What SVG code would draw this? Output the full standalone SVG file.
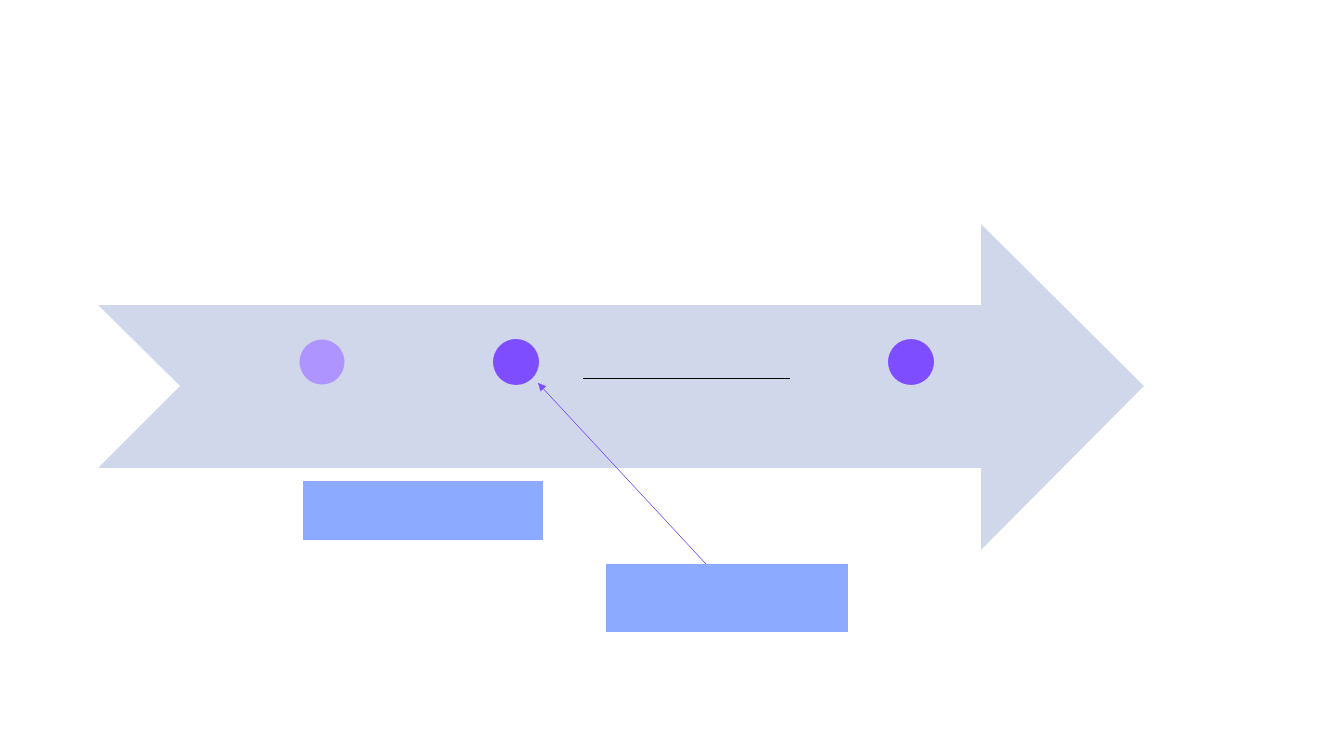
<svg xmlns="http://www.w3.org/2000/svg" width="1333" height="750" viewBox="0 0 1333 750">
<style>
.dot{fill:#7d4dff}
.box{fill:#8caaff}
.conn{stroke:#7d4dff;stroke-width:1;fill:none}
</style>
<defs>
<marker id="ah" viewBox="0 0 10 10" refX="10" refY="5" markerWidth="8" markerHeight="8" markerUnits="userSpaceOnUse" orient="auto">
<path d="M0,0 L10,5 L0,10 z" fill="#7d4dff"/>
</marker>
</defs>
<rect width="1333" height="750" fill="#ffffff"/>
<g id="arrow"><polygon points="98,305 981,305 981,224 1144,386 981,550 981,468 98,468 180,386" fill="#d0d7ea"/></g>
<g id="dot1"><circle cx="322" cy="362" r="22.5" fill="#ad94ff"/></g>
<g id="dot2"><circle class="dot" cx="516" cy="362" r="23"/></g>
<g id="dot3"><circle class="dot" cx="911" cy="362" r="23"/></g>
<g id="line"><line x1="583" y1="378.5" x2="790" y2="378.5" stroke="#000" stroke-width="1.2"/></g>
<g id="box1"><rect class="box" x="303" y="481" width="240" height="59"/></g>
<g id="box2"><rect class="box" x="606" y="564" width="242" height="68"/></g>
<g id="connectors"><line class="conn" x1="706" y1="564" x2="538" y2="383" marker-end="url(#ah)"/></g>
</svg>
